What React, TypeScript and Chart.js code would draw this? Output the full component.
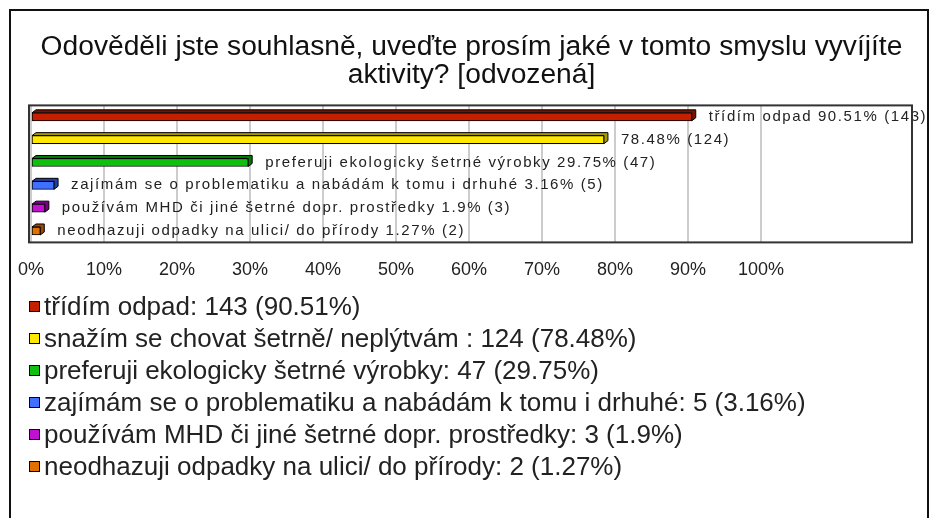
import React, { useEffect, useRef } from "react";
import { Chart, registerables } from "chart.js";

Chart.register(...registerables);

const titleLines = [
  "Odověděli jste souhlasně, uveďte prosím jaké v tomto smyslu vyvíjíte",
  "aktivity? [odvozená]",
];
const categories = [
  "třídím odpad",
  "snažím se chovat šetrně/ neplýtvám ",
  "preferuji ekologicky šetrné výrobky",
  "zajímám se o problematiku a nabádám k tomu i drhuhé",
  "používám MHD či jiné šetrné dopr. prostředky",
  "neodhazuji odpadky na ulici/ do přírody",
];
const counts = [143, 124, 47, 5, 3, 2];
const percents = [90.51, 78.48, 29.75, 3.16, 1.9, 1.27];
const barLabels = [
  "třídím odpad 90.51% (143)",
  "78.48% (124)",
  "preferuji ekologicky šetrné výrobky 29.75% (47)",
  "zajímám se o problematiku a nabádám k tomu i drhuhé 3.16% (5)",
  "používám MHD či jiné šetrné dopr. prostředky 1.9% (3)",
  "neodhazuji odpadky na ulici/ do přírody 1.27% (2)",
];
const tickValues = [0, 10, 20, 30, 40, 50, 60, 70, 80, 90, 100];
const axisMax = 120.68;
const faceColors = ["#c42000", "#ffe800", "#10c010", "#4070ff", "#c010d0", "#e07000"];
const sideColors = ["#7a1000", "#a89800", "#007a00", "#2040a8", "#7a0088", "#9a4800"];

const FONT = '"Liberation Sans", Arial, sans-serif';
const DX = 4;
const DY = -3;

const depthPlugin = {
  id: "depth3d",
  beforeDatasetsDraw(chart: any) {
    const ctx = chart.ctx;
    const meta = chart.getDatasetMeta(0);
    meta.data.forEach((el: any, i: number) => {
      const { x, y, base, height } = el.getProps(["x", "y", "base", "height"], true);
      const top = y - height / 2;
      const bottom = y + height / 2;
      ctx.save();
      ctx.fillStyle = sideColors[i];
      ctx.strokeStyle = "#000";
      ctx.lineWidth = 1;
      ctx.beginPath();
      ctx.moveTo(base, top);
      ctx.lineTo(base + DX, top + DY);
      ctx.lineTo(x + DX, top + DY);
      ctx.lineTo(x + DX, bottom + DY);
      ctx.lineTo(x, bottom);
      ctx.lineTo(x, top);
      ctx.closePath();
      ctx.fill();
      ctx.stroke();
      ctx.restore();
    });
  },
  afterDatasetsDraw(chart: any) {
    const ctx = chart.ctx;
    const meta = chart.getDatasetMeta(0);
    ctx.save();
    ctx.font = `15px ${FONT}`;
    (ctx as any).letterSpacing = "1.6px";
    ctx.fillStyle = "#222";
    ctx.textBaseline = "middle";
    ctx.textAlign = "left";
    meta.data.forEach((el: any, i: number) => {
      const { x, y } = el.getProps(["x", "y"], true);
      ctx.fillText(barLabels[i], x + DX + 13, y);
    });
    ctx.restore();
  },
  afterDraw(chart: any) {
    const { ctx, chartArea } = chart;
    ctx.save();
    ctx.strokeStyle = "#333";
    ctx.lineWidth = 2;
    ctx.strokeRect(chartArea.left - 2, chartArea.top, chartArea.right - chartArea.left + 2, chartArea.bottom - chartArea.top);
    ctx.restore();
  },
};

export default function App() {
  const ref = useRef<HTMLCanvasElement>(null);
  useEffect(() => {
    const chart = new Chart(ref.current as HTMLCanvasElement, {
      type: "bar",
      data: {
        labels: categories,
        datasets: [
          {
            data: percents,
            backgroundColor: faceColors,
            borderColor: "#000",
            borderWidth: 1,
            borderSkipped: false,
            barThickness: 8,
          },
        ],
      },
      options: {
        indexAxis: "y",
        animation: false,
        responsive: false,
        maintainAspectRatio: false,
        layout: { padding: { left: 31, right: 18, top: 0, bottom: 6 } },
        plugins: {
          legend: { display: false },
          tooltip: { enabled: false },
          title: {
            display: true,
            text: titleLines,
            color: "#111",
            font: { family: FONT, size: 28.2, weight: "normal", lineHeight: 1.0 },
            padding: { top: 33, bottom: 16 },
          },
        },
        scales: {
          x: {
            type: "linear",
            min: 0,
            max: axisMax,
            afterBuildTicks(scale: any) {
              scale.ticks = tickValues.map((v) => ({ value: v }));
            },
            border: { display: false },
            grid: { color: "#cccccc", lineWidth: 2, drawTicks: false },
            ticks: {
              padding: 17,
              color: "#222",
              font: { family: FONT, size: 18 },
              callback: (v: any) => v + "%",
            },
          },
          y: {
            type: "category",
            display: false,
          },
        },
      },
      plugins: [depthPlugin],
    } as any);
    return () => chart.destroy();
  }, []);

  return (
    <div style={{ position: "absolute", left: 0, top: 0, width: 930, height: 518, overflow: "hidden", background: "#fff" }}>
      <div
        style={{
          position: "absolute",
          left: 9,
          top: 9,
          width: 920,
          height: 540,
          boxSizing: "border-box",
          borderLeft: "2px solid #111",
          borderTop: "2px solid #111",
          borderRight: "2px solid #111",
        }}
      />
      <canvas ref={ref} width={930} height={304} style={{ position: "absolute", left: 0, top: 0 }} />
      <div style={{ position: "absolute", left: 29, top: 290, fontFamily: FONT, fontSize: 26, color: "#222" }}>
        {categories.map((c, i) => (
          <div key={i} style={{ height: 32, display: "flex", alignItems: "center", whiteSpace: "nowrap" }}>
            <span
              style={{
                display: "inline-block",
                width: 9,
                height: 9,
                border: "1px solid #000",
                background: faceColors[i],
                marginRight: 4,
                flex: "none",
              }}
            />
            <span>{`${c}: ${counts[i]} (${percents[i]}%)`}</span>
          </div>
        ))}
      </div>
    </div>
  );
}
